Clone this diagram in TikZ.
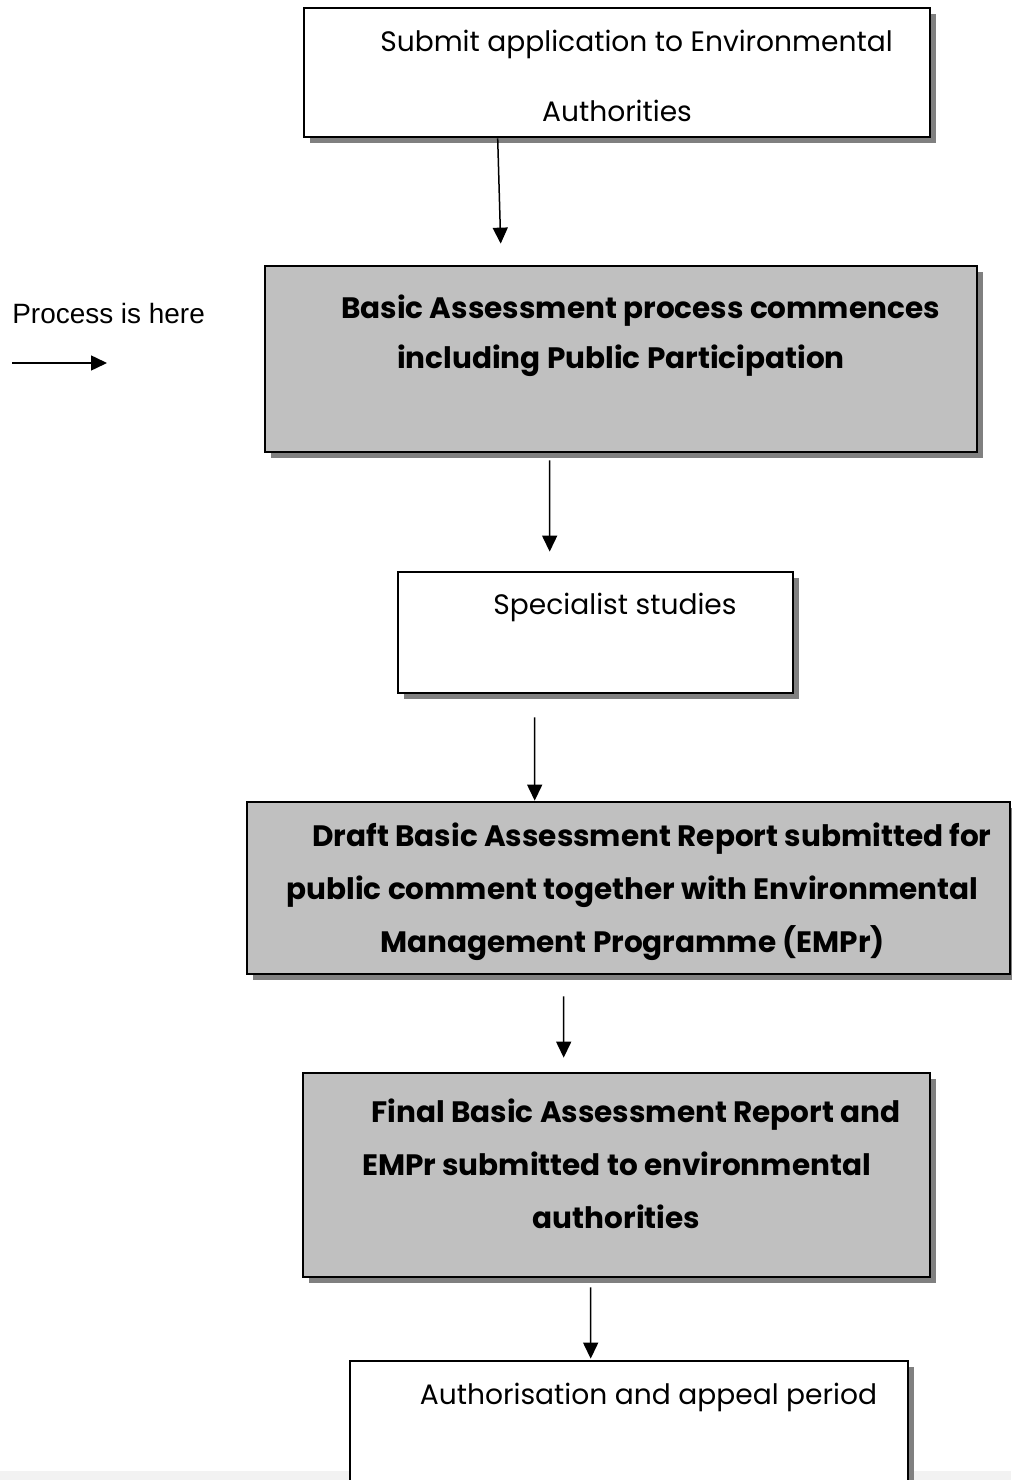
\documentclass[tikz,border=0pt]{standalone}
\usepackage{fontspec}
\setmainfont{Poppins}
\newfontfamily\arialfont{Liberation Sans}
\usetikzlibrary{arrows.meta,shadows}

\definecolor{boxgray}{HTML}{C0C0C0}
\definecolor{shadowgray}{HTML}{808080}
\definecolor{bandgray}{HTML}{F2F2F2}
\newcommand{\firstind}{\hspace*{0.78cm}}

\begin{document}
\begin{tikzpicture}[x=0.02cm, y=-0.02cm]
	\tikzstyle{comp} = [
		rectangle, draw=black, line width=0.55mm, fill=white,
		general shadow={fill=shadowgray, shadow xshift=0.12cm, shadow yshift=-0.12cm}
	]
	\tikzstyle{stage} = [
		comp
	]
	\tikzstyle{stage_grey} = [
		comp, fill=boxgray
	]
	\tikzstyle{caption} = [
		below, inner sep=0pt, align=center, font=\fontsize{16}{30}\selectfont
	]
	\tikzstyle{caption_bold} = [
		caption, font=\fontsize{16.8}{30}\selectfont\bfseries
	]
	\tikzstyle{conn} = [
		line width=0.3mm, -{Triangle[length=3.2mm, width=3mm]}
	]

	\useasboundingbox (0,0) rectangle (1011,1480);
	\fill[bandgray] (0,1471) rectangle (1011,1480);

	% Submit
	\node (Submit) [stage, minimum width=12.52cm, minimum height=2.58cm] at (617,72.5) {};
	\node (Submit_text) [caption] at ([yshift=-0.46cm]Submit.north)
		{\firstind Submit application to Environmental\\[0.34cm] Authorities};

	% Basic Assessment
	\node (Basic) [stage_grey, minimum width=14.24cm, minimum height=3.72cm] at (621,359) {};
	\node (Basic_text) [caption_bold] at ([yshift=-0.6cm]Basic.north)
		{\firstind Basic Assessment process commences\\[-0.06cm] including Public Participation};

	% Specialist studies
	\node (Specialist) [stage, minimum width=7.9cm, minimum height=2.42cm] at (595.5,632.5) {};
	\node (Specialist_text) [caption] at ([yshift=-0.44cm]Specialist.north)
		{\firstind Specialist studies};

	% Draft report
	\node (Draft) [stage_grey, minimum width=15.26cm, minimum height=3.44cm] at (628.5,888) {};
	\node (Draft_text) [caption_bold] at ([shift={(4,-0.44cm)}]Draft.north)
		{\firstind Draft Basic Assessment Report submitted for\\ public comment together with Environmental\\ Management Programme (EMPr)};

	% Final report
	\node (Final) [stage_grey, minimum width=12.54cm, minimum height=4.08cm] at (616.5,1175) {};
	\node (Final_text) [caption_bold] at ([yshift=-0.54cm]Final.north)
		{\firstind Final Basic Assessment Report and\\ EMPr submitted to environmental\\ authorities};

	% Authorisation
	\node (Authorisation) [stage, minimum width=11.16cm, minimum height=2.78cm] at (629,1430.5) {};
	\node (Authorisation_text) [caption] at ([yshift=-0.46cm]Authorisation.north)
		{\firstind Authorisation and appeal period};

	% Process is here
	\node (Here) [anchor=west, inner sep=0pt, font=\arialfont\fontsize{15.9}{18}\selectfont] at (12,314) {Process is here};
	\coordinate (Here_start) at (12,363);
	\coordinate (Here_end) at (107,363);
	\draw[conn] (Here_start) -- (Here_end);

	% connectors between stages
	\coordinate [shift={(195,0)}]   (Submit_out)        at (Submit.south west);
	\coordinate [shift={(237,-21)}] (Basic_in)          at (Basic.north west);
	\coordinate [shift={(286,7)}]   (Basic_out)         at (Basic.south west);
	\coordinate [shift={(153,-19)}] (Specialist_in)     at (Specialist.north west);
	\coordinate [shift={(138,23)}]  (Specialist_out)    at (Specialist.south west);
	\coordinate [shift={(289,0)}]   (Draft_in)          at (Draft.north west);
	\coordinate [shift={(318,21)}]  (Draft_out)         at (Draft.south west);
	\coordinate [shift={(262,-14)}] (Final_in)          at (Final.north west);
	\coordinate [shift={(289,9)}]   (Final_out)         at (Final.south west);
	\coordinate [shift={(242,-1)}]  (Authorisation_in)  at (Authorisation.north west);

	\draw[conn] (Submit_out) -- (Basic_in);
	\draw[conn] (Basic_out) -- (Specialist_in);
	\draw[conn] (Specialist_out) -- (Draft_in);
	\draw[conn] (Draft_out) -- (Final_in);
	\draw[conn] (Final_out) -- (Authorisation_in);
\end{tikzpicture}
\end{document}
